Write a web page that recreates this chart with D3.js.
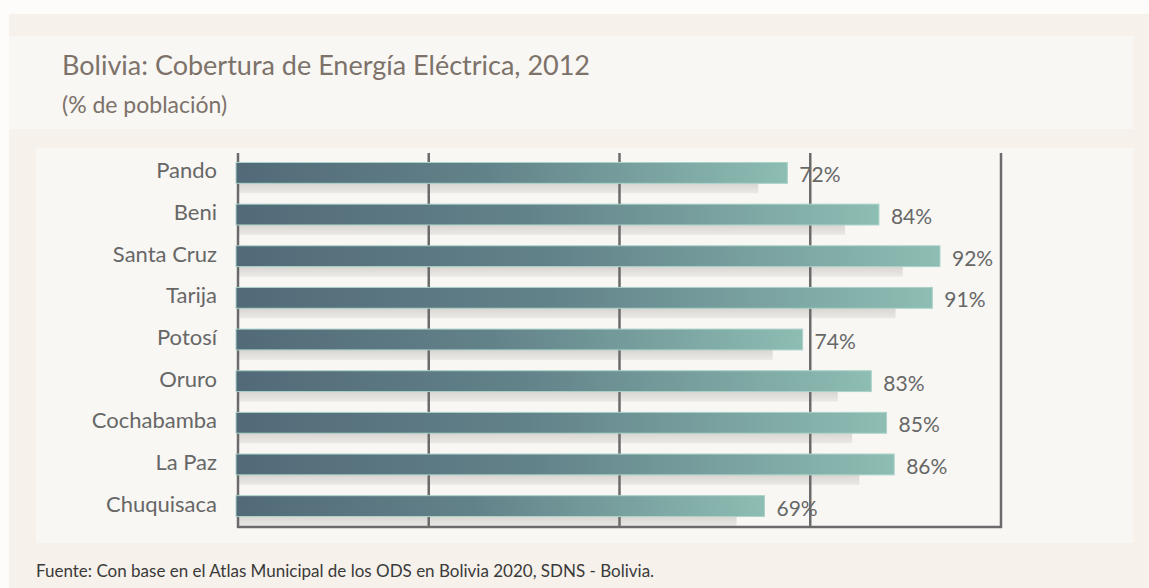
<!DOCTYPE html>
<html>
<head>
<meta charset="utf-8">
<script src="https://cdn.jsdelivr.net/npm/d3@7"></script>
<style>
  body { margin: 0; background: #fdfcfa; }
  svg { display: block; font-family: Lato, "Open Sans", sans-serif; }
</style>
</head>
<body>
<div id="chart"></div>
<script>
// data
var departamentos = ["Pando", "Beni", "Santa Cruz", "Tarija", "Potosí", "Oruro", "Cochabamba", "La Paz", "Chuquisaca"];
var cobertura = [72, 84, 92, 91, 74, 83, 85, 86, 69];
var gridTicks = [0, 25, 50, 75, 100];

var W = 1149, H = 588;

var svg = d3.select("#chart").append("svg")
  .attr("width", W)
  .attr("height", H);

var defs = svg.append("defs");

var grad = defs.append("linearGradient")
  .attr("id", "barGrad")
  .attr("x1", "0%").attr("x2", "100%")
  .attr("y1", "0%").attr("y2", "0%");
grad.append("stop").attr("offset", "0%").attr("stop-color", "#526a78");
grad.append("stop").attr("offset", "45%").attr("stop-color", "#628289");
grad.append("stop").attr("offset", "100%").attr("stop-color", "#8dbdb3");

var shadowGrad = defs.append("linearGradient")
  .attr("id", "shadowGrad")
  .attr("x1", "0%").attr("x2", "0%")
  .attr("y1", "0%").attr("y2", "100%");
shadowGrad.append("stop").attr("offset", "0%").attr("stop-color", "#d9d6d2");
shadowGrad.append("stop").attr("offset", "100%").attr("stop-color", "#ebe9e6");

/* ------- BACKGROUND PANELS -------*/
svg.append("rect").attr("x", 0).attr("y", 0).attr("width", W).attr("height", H).attr("fill", "#fdfcfa");
svg.append("rect").attr("x", 9).attr("y", 14).attr("width", W - 9).attr("height", H - 14).attr("fill", "#f6f1eb");
svg.append("rect").attr("x", 9).attr("y", 36).attr("width", 1124).attr("height", 93).attr("fill", "#f8f7f4");
svg.append("rect").attr("x", 36).attr("y", 148).attr("width", 1097).attr("height", 395).attr("fill", "#f8f7f4");

/* ------- TITLES -------*/
svg.append("text")
  .attr("x", 62).attr("y", 75)
  .attr("fill", "#7d726a")
  .style("font-size", "27px")
  .text("Bolivia: Cobertura de Energía Eléctrica, 2012");

svg.append("text")
  .attr("x", 62).attr("y", 113)
  .attr("fill", "#7d726a")
  .style("font-size", "23px")
  .text("(% de población)");

svg.append("text")
  .attr("x", 36).attr("y", 577)
  .attr("fill", "#3a3a3a")
  .style("font-size", "17px")
  .text("Fuente: Con base en el Atlas Municipal de los ODS en Bolivia 2020, SDNS - Bolivia.");

/* ------- SCALES -------*/
var x = d3.scaleLinear().domain([0, 100]).range([238, 1001]);

var y = d3.scaleBand()
  .domain(departamentos)
  .range([150, 529])
  .paddingInner(0.5)
  .paddingOuter(0.3);

var rows = departamentos.map(function (d, i) {
  return { label: d, value: cobertura[i] };
});

/* ------- SHADOWS -------*/
svg.append("g").attr("class", "shadows")
  .selectAll("rect")
  .data(rows)
  .enter().append("rect")
  .attr("x", x(0))
  .attr("y", function (d) { return y(d.label) + y.bandwidth(); })
  .attr("width", function (d) { return (x(d.value) - x(0)) * 0.947; })
  .attr("height", 10)
  .attr("fill", "url(#shadowGrad)");

/* ------- GRID -------*/
var grid = svg.append("g").attr("class", "grid");
grid.selectAll("line")
  .data(gridTicks)
  .enter().append("line")
  .attr("x1", function (d) { return x(d); })
  .attr("x2", function (d) { return x(d); })
  .attr("y1", 153)
  .attr("y2", 528)
  .attr("stroke", "#6b6b6b")
  .attr("stroke-width", 2.5);

grid.append("line")
  .attr("x1", x(0) - 1).attr("x2", x(100) + 1)
  .attr("y1", 527).attr("y2", 527)
  .attr("stroke", "#6b6b6b")
  .attr("stroke-width", 2.5);

/* ------- BARS -------*/
svg.append("g").attr("class", "bars")
  .selectAll("rect")
  .data(rows)
  .enter().append("rect")
  .attr("x", x(0) - 2)
  .attr("y", function (d) { return y(d.label); })
  .attr("width", function (d) { return x(d.value) - x(0) + 2; })
  .attr("height", y.bandwidth())
  .attr("fill", "url(#barGrad)")
  .attr("stroke", "#a9d2c9")
  .attr("stroke-width", 1);

/* ------- LABELS -------*/
svg.append("g").attr("class", "labels")
  .selectAll("text")
  .data(rows)
  .enter().append("text")
  .attr("x", 217)
  .attr("y", function (d) { return y(d.label) + y.bandwidth() / 2; })
  .attr("dy", "0.25em")
  .attr("text-anchor", "end")
  .attr("fill", "#676767")
  .style("font-size", "22px")
  .text(function (d) { return d.label; });

svg.append("g").attr("class", "values")
  .selectAll("text")
  .data(rows)
  .enter().append("text")
  .attr("x", function (d) { return x(d.value) + 12; })
  .attr("y", function (d) { return y(d.label) + y.bandwidth() / 2 + 9.5; })
  .attr("fill", "#676767")
  .style("font-size", "21px")
  .text(function (d) { return d.value + "%"; });
</script>
</body>
</html>
